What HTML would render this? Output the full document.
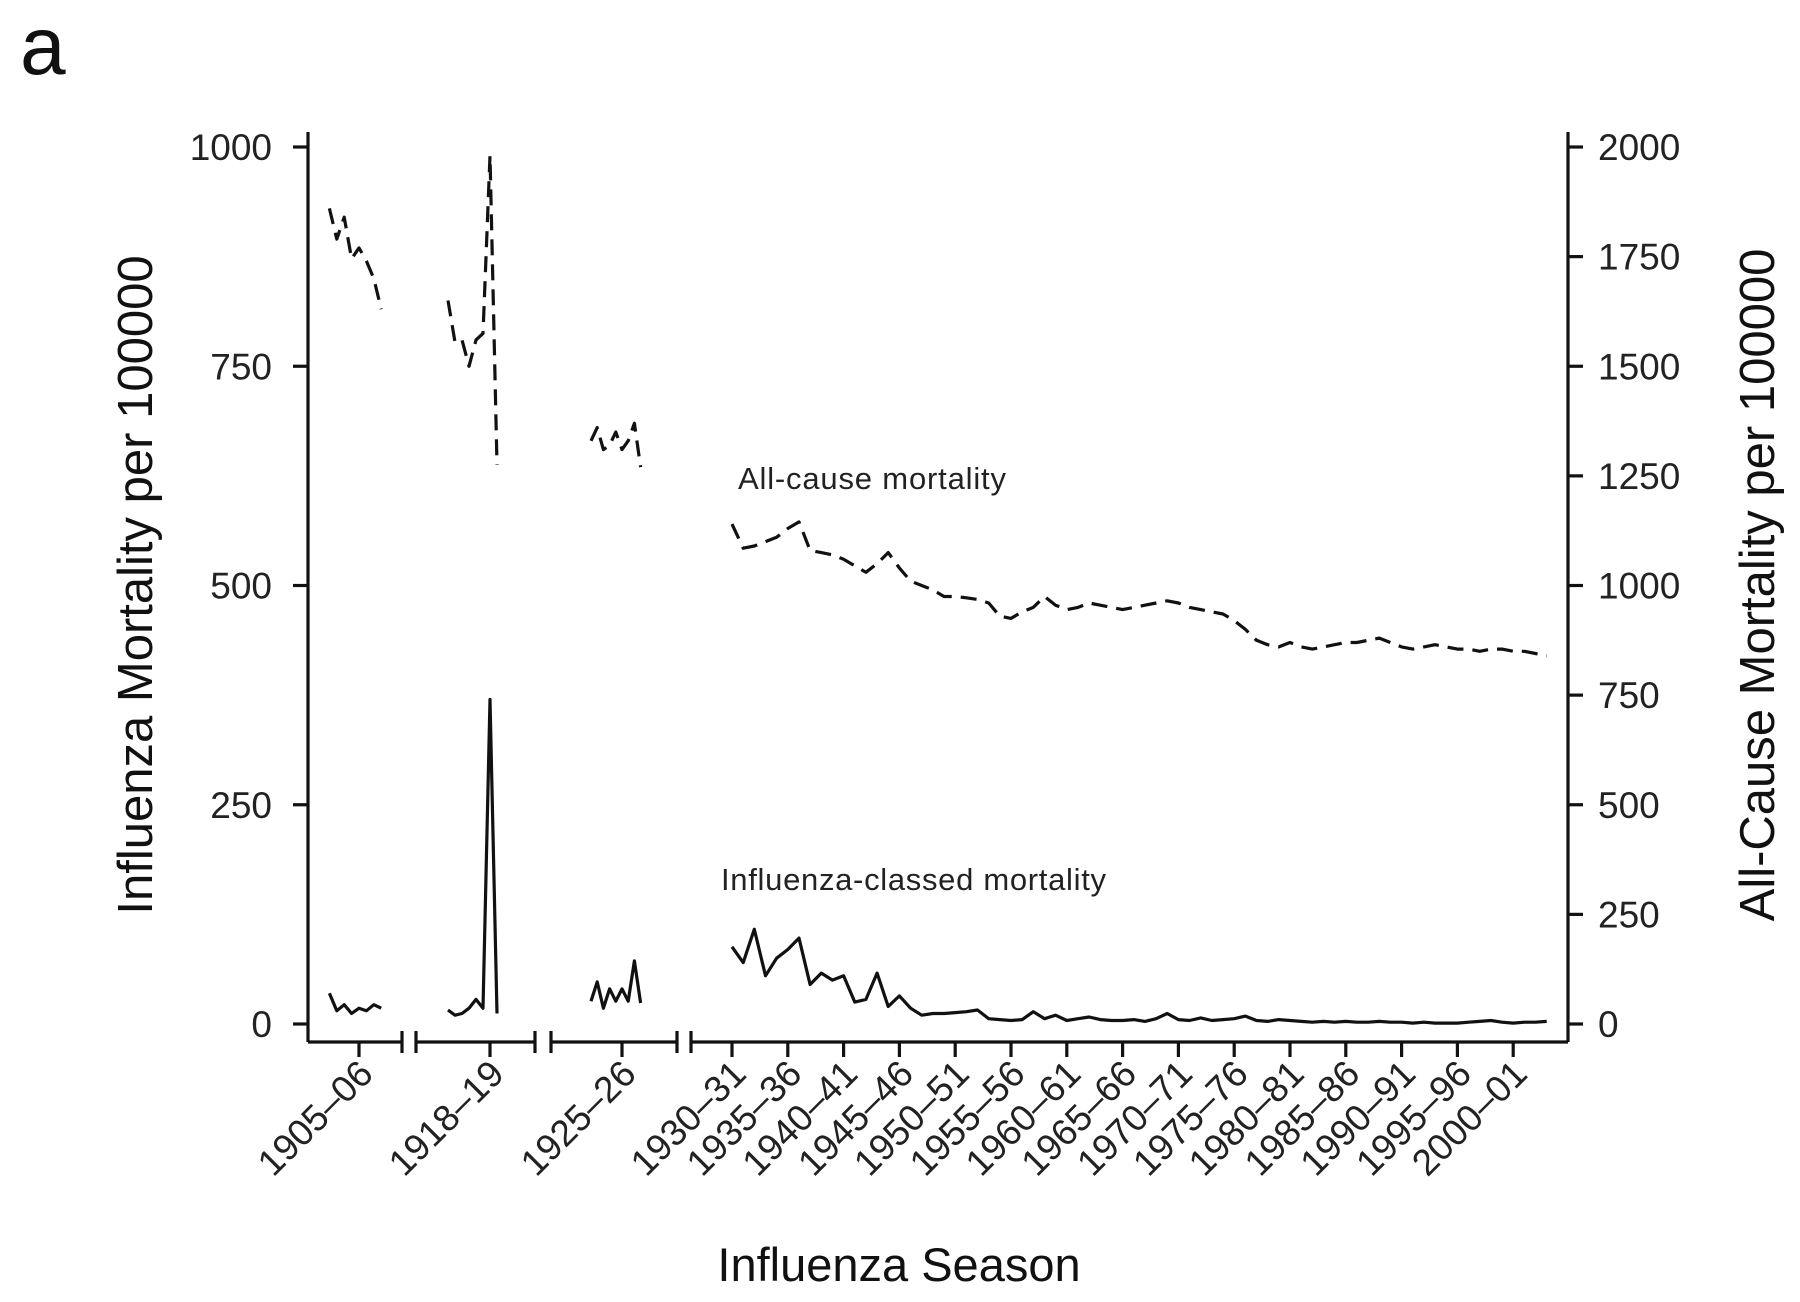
<!DOCTYPE html>
<html><head><meta charset="utf-8"><style>
html,body{margin:0;padding:0;background:#fff}
svg{display:block;font-family:"Liberation Sans",sans-serif}
</style></head><body>
<svg id="chart" width="1800" height="1302" viewBox="0 0 1800 1302">
<text x="20" y="74" font-size="82" fill="#111">a</text>
<g id="axes"></g><g id="series"></g>
<text x="738" y="489" font-size="31" fill="#222" textLength="268">All-cause mortality</text>
<text x="721" y="890" font-size="31" fill="#222" textLength="385">Influenza-classed mortality</text>
<text transform="translate(152,585) rotate(-90)" text-anchor="middle" font-size="49" fill="#111">Influenza Mortality per 100000</text>
<text transform="translate(1774,585) rotate(-90)" text-anchor="middle" font-size="49" fill="#111">All-Cause Mortality per 100000</text>
<text x="899" y="1281" text-anchor="middle" font-size="47" fill="#111">Influenza Season</text>
</svg>
<script>
const leftTicks=[0,250,500,750,1000];
const rightTicks=[0,250,500,750,1000,1250,1500,1750,2000];
const xTickYears=[1905,1918,1925,1930,1935,1940,1945,1950,1955,1960,1965,1970,1975,1980,1985,1990,1995,2000];
const seg1Years=[1901,1902,1903,1904,1905,1906,1907,1908];
const seg1Flu=[35,15,22,12,18,15,22,18];
const seg1All=[1860,1790,1840,1745,1770,1740,1700,1630];
const seg2Years=[1912,1913,1914,1915,1916,1917,1918,1919];
const seg2Flu=[16,10,12,18,28,18,370,12];
const seg2All=[1650,1555,1560,1500,1560,1575,1980,1275];
const seg3Years=[1920,1921,1922,1923,1924,1925,1926,1927,1928];
const seg3Flu=[26,48,18,40,26,40,26,72,24];
const seg3All=[1330,1360,1310,1320,1350,1310,1330,1370,1270];
const seg4Start=1930;
const seg4Flu=[88,70,108,55,75,85,98,45,58,50,55,25,28,58,20,32,18,10,12,12,13,14,16,6,5,4,5,14,6,10,4,6,8,5,4,4,5,3,6,12,5,4,7,4,5,6,9,4,3,5,4,3,2,3,2,3,2,2,3,2,2,1,2,1,1,1,2,3,4,2,1,2,2,3];
const seg4All=[1140,1085,1090,1100,1110,1130,1145,1080,1075,1070,1060,1045,1030,1050,1075,1040,1010,1000,990,975,975,972,968,960,930,925,940,950,975,955,945,950,960,955,950,945,950,955,960,965,960,950,945,940,935,920,900,875,865,860,870,860,855,860,865,870,870,875,880,870,860,855,860,865,860,855,855,850,855,855,850,850,845,840];

const NS='http://www.w3.org/2000/svg';
const axes=document.getElementById('axes'),series=document.getElementById('series');
const Y0=1024,PXU=0.877;
function yL(v){return Y0-v*PXU;}
function yR(v){return Y0-v/2*PXU;}
const segs=[
 {x0:308,x1:402,ref:1905,rx:359,k:7.4},
 {x0:416,x1:535,ref:1918,rx:490,k:7},
 {x0:551,x1:677,ref:1925,rx:622,k:6.2},
 {x0:691,x1:1568,ref:1930,rx:732,k:11.16}];
function xOf(year){const s=year<1910?segs[0]:year<1920?segs[1]:year<1930?segs[2]:segs[3];return s.rx+(year-s.ref)*s.k;}
function mk(tag,attrs,parent){const e=document.createElementNS(NS,tag);for(const k in attrs)e.setAttribute(k,attrs[k]);parent.appendChild(e);return e;}
const AX=1042;
let la=mk('line',{x1:308,y1:132,x2:308,y2:AX,stroke:'#111','stroke-width':3.2},axes);


leftTicks.forEach(v=>{
 mk('line',{x1:293,x2:308,y1:yL(v),y2:yL(v),stroke:'#111','stroke-width':3.2},axes);
 const t=mk('text',{x:272,y:yL(v)+13,'text-anchor':'end','font-size':37,fill:'#222'},axes);t.textContent=v;
 
 
});
let ra=mk('line',{x1:1568,y1:132,x2:1568,y2:AX,stroke:'#111','stroke-width':3.2},axes);


rightTicks.forEach(v=>{
 mk('line',{x1:1568,x2:1583,y1:yR(v),y2:yR(v),stroke:'#111','stroke-width':3.2},axes);
 const t=mk('text',{x:1598,y:yR(v)+13,'font-size':37,fill:'#222'},axes);t.textContent=v;
 
 
});
segs.forEach((s,i)=>{
 const l=mk('line',{x1:s.x0,x2:s.x1,y1:AX,y2:AX,stroke:'#111','stroke-width':3.2},axes);
 
 
 if(i>0)mk('line',{x1:s.x0,x2:s.x0,y1:AX-11,y2:AX+11,stroke:'#111','stroke-width':3.2},axes);
 if(i<3)mk('line',{x1:s.x1,x2:s.x1,y1:AX-11,y2:AX+11,stroke:'#111','stroke-width':3.2},axes);
});
xTickYears.forEach(y=>{
 const x=xOf(y);
 mk('line',{x1:x,x2:x,y1:AX,y2:AX+15,stroke:'#111','stroke-width':3.2},axes);
 const t=mk('text',{x:0,y:0,'text-anchor':'end','font-size':37,fill:'#222',transform:`translate(${x+16},${AX+34}) rotate(-45)`},axes);
 t.textContent=y+'–'+String((y+1)%100).padStart(2,'0');
 
 
});
function line(years,vals,yf,dash,name){
 const d=years.map((yr,i)=>(i?'L':'M')+xOf(yr).toFixed(1)+' '+yf(vals[i]).toFixed(1)).join(' ');
 const p=mk('path',{d:d,fill:'none',stroke:'#111','stroke-width':3.2,'stroke-linejoin':'round'},series);
 if(dash)p.setAttribute('stroke-dasharray','16 9');
 
 
}
const seg4Years=seg4Flu.map((_,i)=>seg4Start+i);
line(seg1Years,seg1All,yR,true,'all-cause-line-seg1');
line(seg2Years,seg2All,yR,true,'all-cause-line-seg2');
line(seg3Years,seg3All,yR,true,'all-cause-line-seg3');
line(seg4Years,seg4All,yR,true,'all-cause-line-seg4');
line(seg1Years,seg1Flu,yL,false,'influenza-line-seg1');
line(seg2Years,seg2Flu,yL,false,'influenza-line-seg2');
line(seg3Years,seg3Flu,yL,false,'influenza-line-seg3');
line(seg4Years,seg4Flu,yL,false,'influenza-line-seg4');
</script>
</body></html>
